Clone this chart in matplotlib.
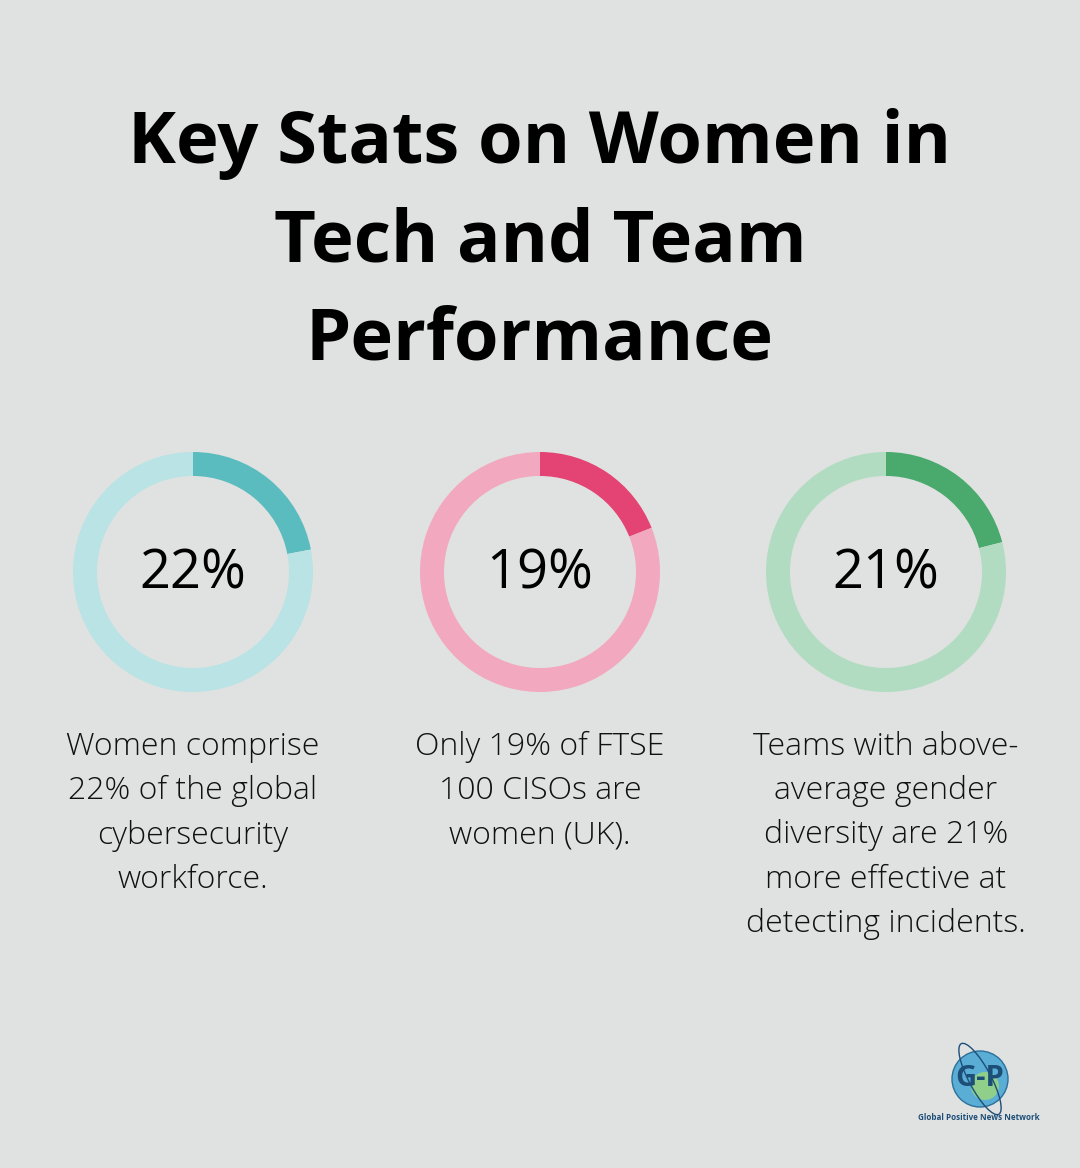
import matplotlib
matplotlib.use("Agg")
import matplotlib.pyplot as plt
from matplotlib.patches import Circle, Ellipse

# data
title_lines = ["Key Stats on Women in", "Tech and Team", "Performance"]
percents = [22, 19, 21]
pct_labels = ["22%", "19%", "21%"]
descriptions = [
    "Women comprise\n22% of the global\ncybersecurity\nworkforce.",
    "Only 19% of FTSE\n100 CISOs are\nwomen (UK).",
    "Teams with above-\naverage gender\ndiversity are 21%\nmore effective at\ndetecting incidents.",
]
dark_colors = ["#5bbcbf", "#e34474", "#4aa96c"]
light_colors = ["#b9e3e4", "#f2a9c0", "#b2dcc1"]

BG = "#e0e2e1"
W, H = 1080, 1168
plt.rcParams["font.family"] = ["Open Sans", "DejaVu Sans"]

fig = plt.figure(figsize=(W / 100, H / 100), dpi=100, facecolor=BG)

# background axes in pixel coordinates
bg = fig.add_axes([0, 0, 1, 1])
bg.set_xlim(0, W)
bg.set_ylim(H, 0)
bg.axis("off")
bg.set_facecolor(BG)

# title
for i, line in enumerate(title_lines):
    bg.text(540, 144 + i * 98, line, ha="center", va="center",
            fontsize=52, fontweight="bold", color="#000000")

centers = [193, 540, 886]
cy = 572
R = 120
for cx, p, lab, desc, dc, lc in zip(centers, percents, pct_labels,
                                     descriptions, dark_colors, light_colors):
    ax = fig.add_axes([(cx - R) / W, (H - cy - R) / H, 2 * R / W, 2 * R / H])
    ax.pie([p, 100 - p], colors=[dc, lc], startangle=90, counterclock=False,
           radius=1, wedgeprops=dict(width=0.2, linewidth=0))
    ax.set_xlim(-1, 1)
    ax.set_ylim(-1, 1)
    ax.set_aspect("equal")
    ax.axis("off")
    bg.text(cx, cy + 2, lab, ha="center", va="center", fontsize=39,
            fontweight="normal", color="#000000")
    bg.text(cx, 731, desc, ha="center", va="top", fontsize=23,
            fontweight="light", color="#111111", linespacing=1.51)

# logo
lx, ly = 980, 1079
bg.add_patch(Circle((lx, ly), 28, facecolor="#5aaed6", edgecolor="#2c6f9a",
                    linewidth=1.0, zorder=3))
bg.add_patch(Circle((lx + 5, ly + 7), 14, facecolor="#8fcf8a", edgecolor="none",
                    zorder=3))
bg.add_patch(Ellipse((lx, ly), 22, 80, angle=-28, facecolor="none",
                     edgecolor="#1d4e78", linewidth=1.0, zorder=4))
bg.text(lx, ly, "G-P", ha="center", va="center", fontsize=21,
        fontweight="bold", color="#1d4e78", zorder=5)
bg.text(979, 1117, "Global Positive News Network", ha="center", va="center",
        fontsize=5.8, fontweight="bold", color="#1d4e78", zorder=5)

fig.savefig("out.png", dpi=100, facecolor=BG)
